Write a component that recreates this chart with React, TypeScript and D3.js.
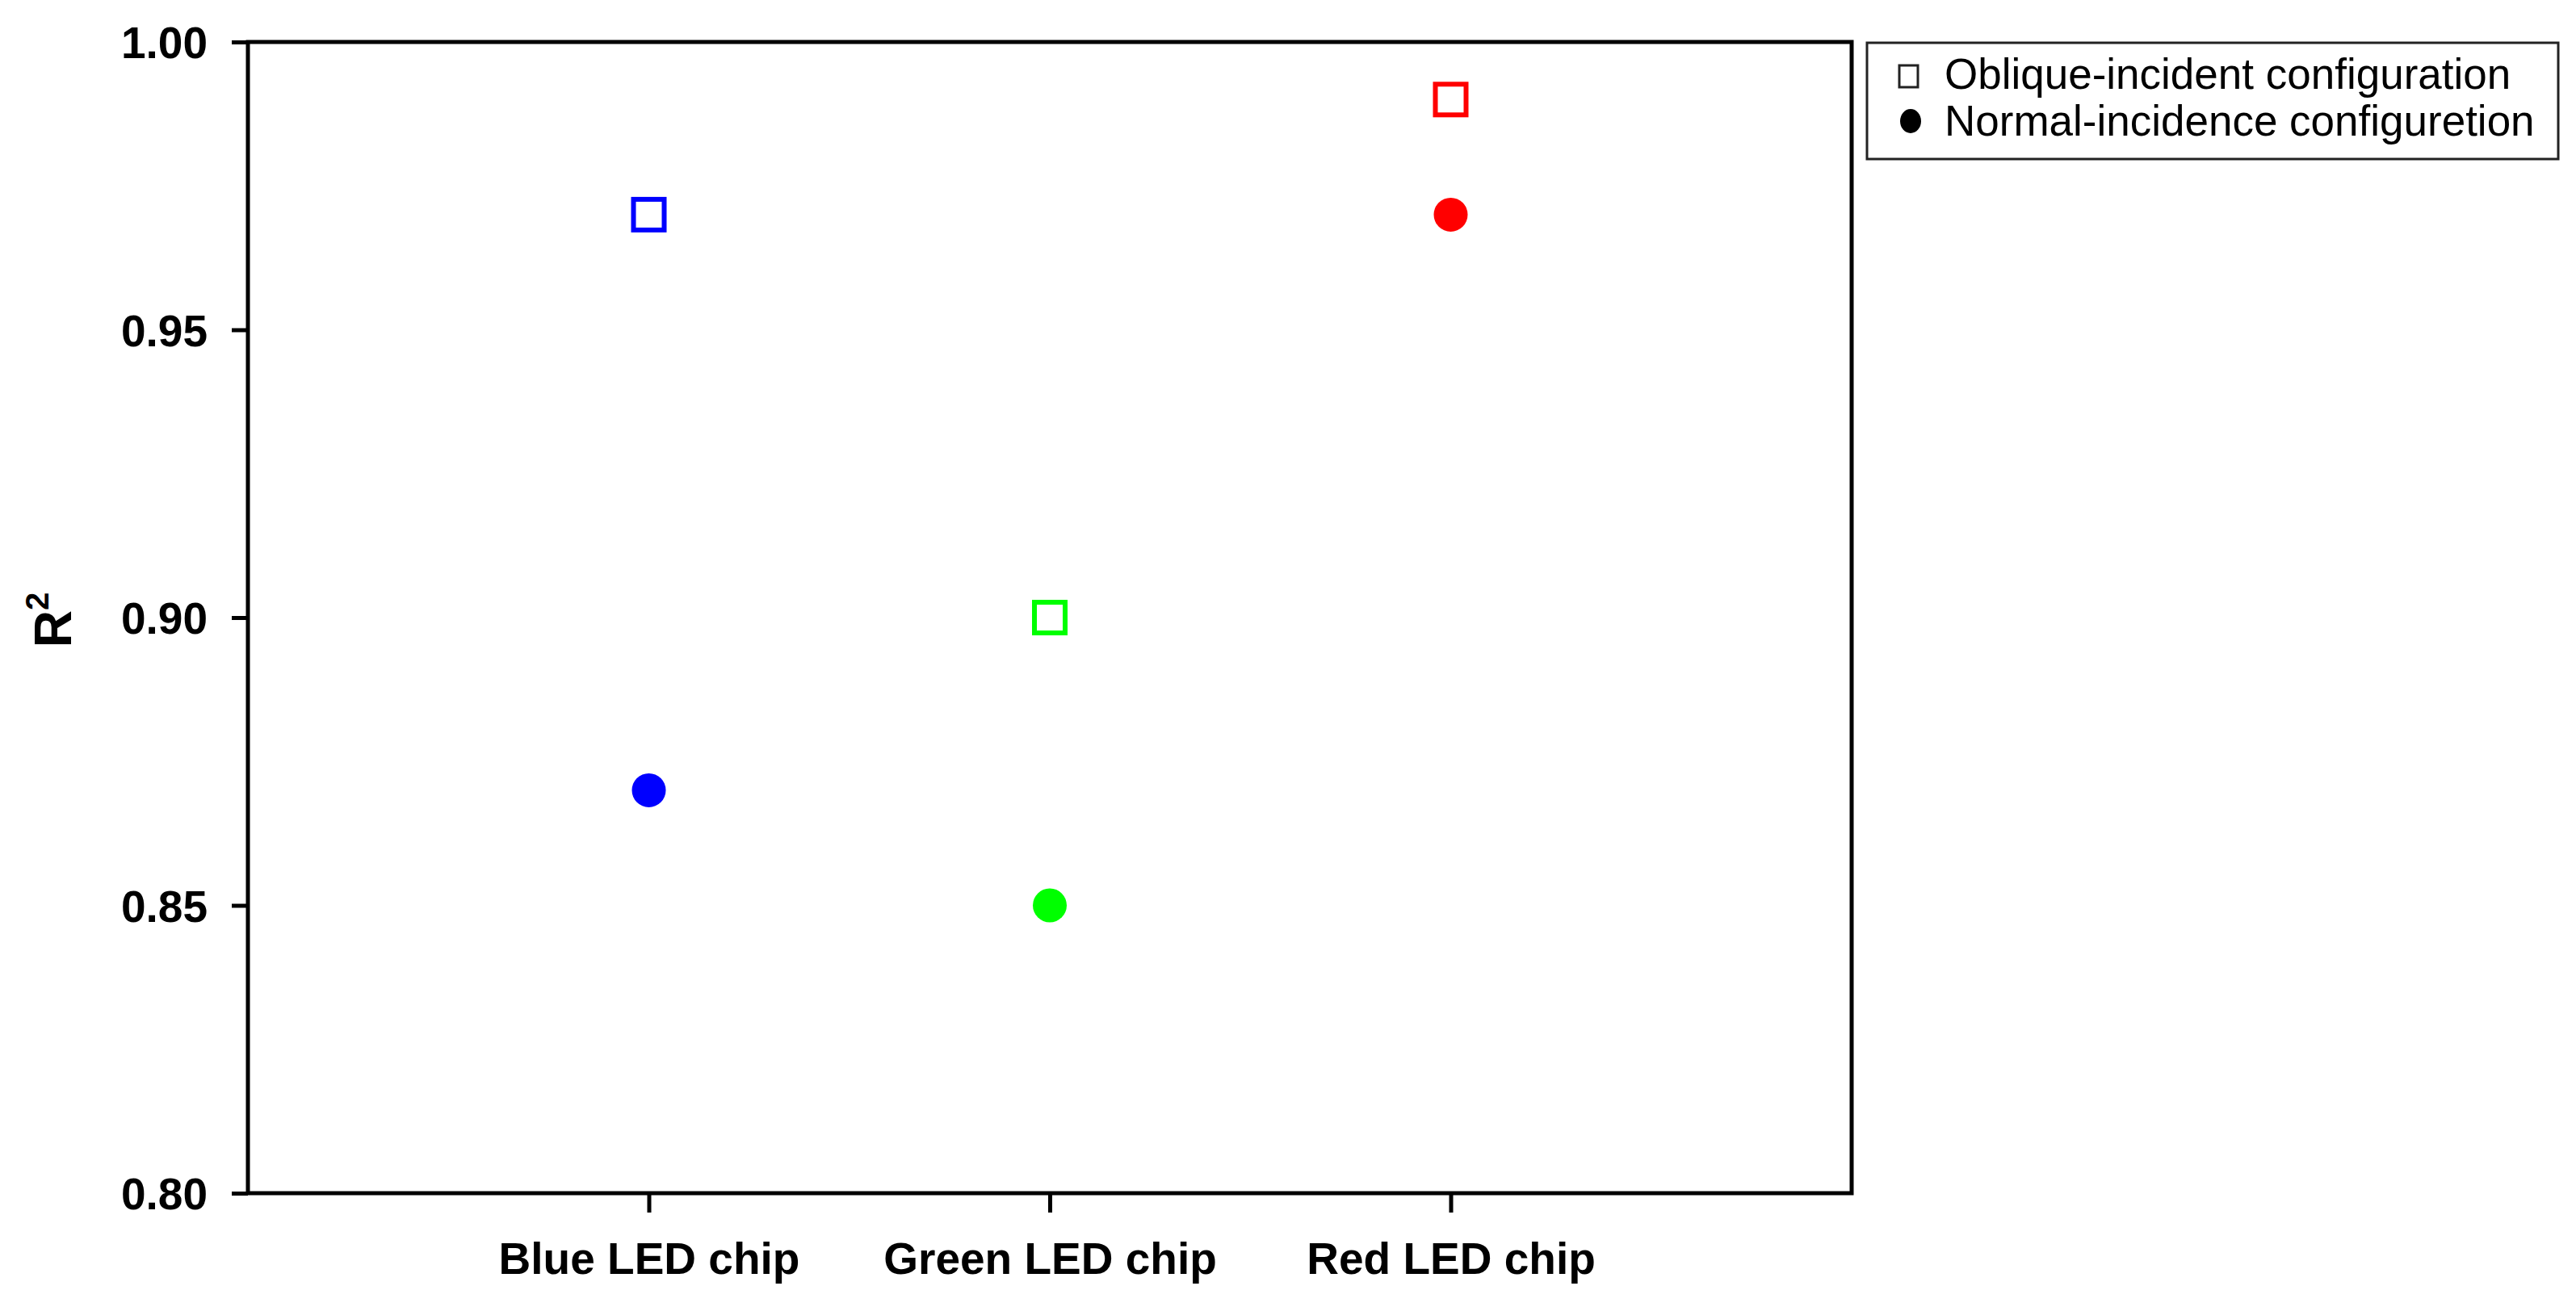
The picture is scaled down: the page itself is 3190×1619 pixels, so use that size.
import * as React from "react";
import * as d3 from "d3";

const chips = ["Blue LED chip", "Green LED chip", "Red LED chip"];
const chipColors = ["#0000ff", "#00ff00", "#ff0000"];
const oblique = [0.97, 0.9, 0.99];
const normal = [0.87, 0.85, 0.97];
const yTicks = [0.8, 0.85, 0.9, 0.95, 1.0];
const legendLabels = ["Oblique-incident configuration", "Normal-incidence configuretion"];

const FONT = "'Liberation Sans', Arial, sans-serif";

export default function App() {
    const node = React.useRef<SVGSVGElement | null>(null);

    React.useEffect(() => {
        const svg = d3.select(node.current);
        svg.selectAll("*").remove();

        const left = 307, right = 2293, top = 52, bottom = 1478;

        const x = d3.scaleLinear().domain([0, 4]).range([left, right]);
        const y = d3.scaleLinear().domain([0.8, 1.0]).range([bottom, top]);

        // frame
        svg.append("rect")
            .attr("x", left).attr("y", top)
            .attr("width", right - left).attr("height", bottom - top)
            .attr("fill", "none").attr("stroke", "#000").attr("stroke-width", 5);

        // y axis
        const yAxis = svg.append("g")
            .attr("transform", "translate(" + left + ",0)")
            .call(d3.axisLeft(y).tickValues(yTicks).tickFormat(d3.format(".2f")).tickSize(20).tickPadding(30));
        yAxis.select(".domain").remove();
        yAxis.selectAll("line").attr("stroke", "#000").attr("stroke-width", 5);
        yAxis.selectAll("text")
            .attr("font-family", FONT).attr("font-size", 55).attr("font-weight", "bold")
            .attr("fill", "#000").attr("dy", "0.36em");

        // x axis
        const xAxis = svg.append("g")
            .attr("transform", "translate(0," + bottom + ")")
            .call(d3.axisBottom(x).tickValues([1, 2, 3]).tickFormat((d: any) => chips[d - 1]).tickSize(24).tickPadding(37));
        xAxis.select(".domain").remove();
        xAxis.selectAll("line").attr("stroke", "#000").attr("stroke-width", 5);
        xAxis.selectAll("text")
            .attr("font-family", FONT).attr("font-size", 55).attr("font-weight", "bold")
            .attr("fill", "#000").attr("dy", "0.71em");

        // y title
        const yt = svg.append("text")
            .attr("transform", "translate(88,768) rotate(-90)")
            .attr("text-anchor", "middle")
            .attr("font-family", FONT).attr("font-weight", "bold").attr("fill", "#000");
        yt.append("tspan").attr("font-size", 64).text("R");
        yt.append("tspan").attr("font-size", 40).attr("dy", -28).text("2");

        // points
        const s = 38;
        svg.append("g").selectAll("rect").data(oblique).join("rect")
            .attr("x", (d, i) => x(i + 1) - s / 2)
            .attr("y", d => y(d) - s / 2)
            .attr("width", s).attr("height", s)
            .attr("fill", "none")
            .attr("stroke", (d, i) => chipColors[i])
            .attr("stroke-width", 6);

        svg.append("g").selectAll("circle").data(normal).join("circle")
            .attr("cx", (d, i) => x(i + 1))
            .attr("cy", d => y(d))
            .attr("r", 21)
            .attr("fill", (d, i) => chipColors[i]);

        // legend
        const lg = svg.append("g");
        lg.append("rect")
            .attr("x", 2312).attr("y", 53).attr("width", 856).attr("height", 144)
            .attr("fill", "#fff").attr("stroke", "#222").attr("stroke-width", 3);
        lg.append("rect")
            .attr("x", 2352).attr("y", 81).attr("width", 23).attr("height", 27)
            .attr("fill", "none").attr("stroke", "#222").attr("stroke-width", 3);
        lg.append("ellipse")
            .attr("cx", 2366).attr("cy", 150).attr("rx", 13).attr("ry", 15)
            .attr("fill", "#000");
        lg.selectAll("text.lbl").data(legendLabels).join("text")
            .attr("class", "lbl")
            .attr("x", 2408)
            .attr("y", (d, i) => 110 + i * 58)
            .attr("font-family", FONT).attr("font-size", 53).attr("fill", "#000")
            .text(d => d);
    }, []);

    return (
        <svg ref={node} width={3190} height={1619}
            style={{ position: "absolute", left: 0, top: 0, background: "#fff" }} />
    );
}
